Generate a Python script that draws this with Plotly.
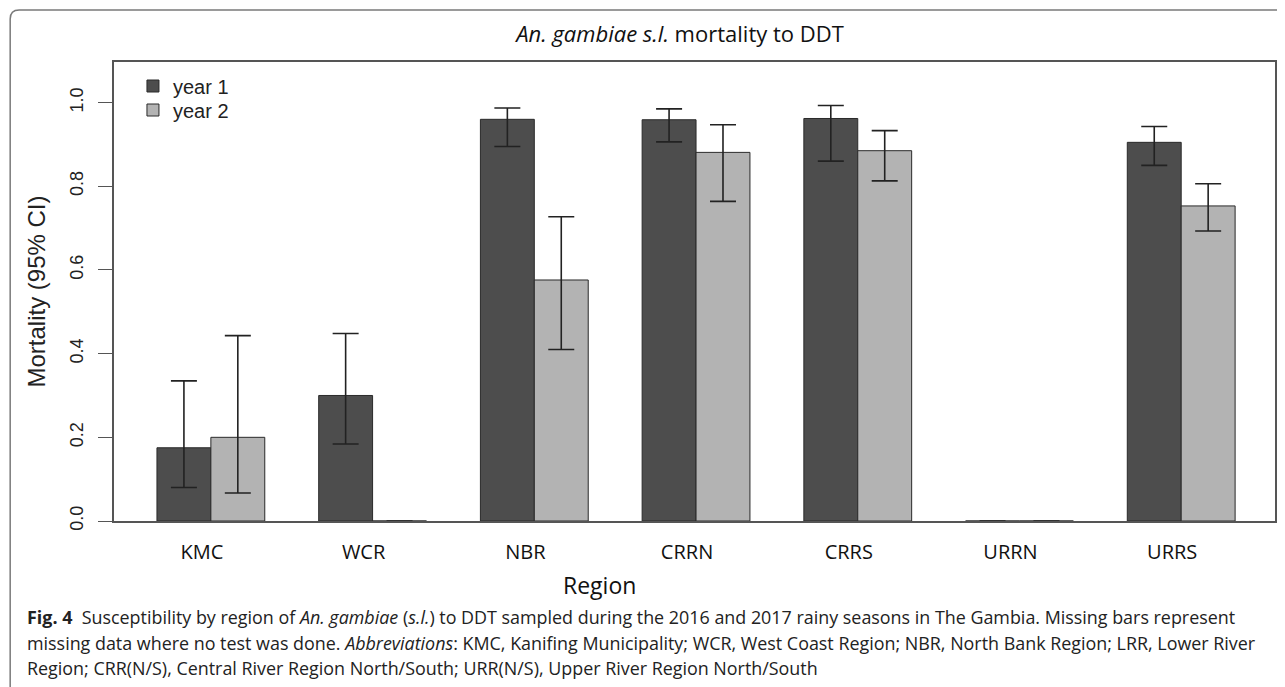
import plotly.graph_objects as go

# ---- data ----
regions = ["KMC", "WCR", "NBR", "CRRN", "CRRS", "URRN", "URRS"]
year1 = [0.175, 0.300, 0.960, 0.959, 0.962, 0.0, 0.905]
year1_lo = [0.080, 0.184, 0.895, 0.906, 0.860, 0.0, 0.850]
year1_hi = [0.335, 0.448, 0.987, 0.985, 0.993, 0.0, 0.943]
year2 = [0.200, 0.0, 0.576, 0.881, 0.885, 0.0, 0.753]
year2_lo = [0.067, 0.0, 0.410, 0.764, 0.813, 0.0, 0.693]
year2_hi = [0.443, 0.0, 0.727, 0.947, 0.933, 0.0, 0.806]
y_ticks = [0.0, 0.2, 0.4, 0.6, 0.8, 1.0]
y_tick_text = ["0.0", "0.2", "0.4", "0.6", "0.8", "1.0"]

caption_lines = [
    "<b>Fig. 4</b>  Susceptibility by region of <i>An. gambiae</i> (<i>s.l.</i>) to DDT sampled during the 2016 and 2017 rainy seasons in The Gambia. Missing bars represent",
    "missing data where no test was done. <i>Abbreviations</i>: KMC, Kanifing Municipality; WCR, West Coast Region; NBR, North Bank Region; LRR, Lower River",
    "Region; CRR(N/S), Central River Region North/South; URR(N/S), Upper River Region North/South",
]

# ---- layout geometry (figure pixels; page adds an 8px body margin) ----
W, H = 1277, 679
L, R, T, B = 106, 1269, 54, 513
def px(x):
    return (x - L) / (R - L)
def py(y):
    return (B - y) / (B - T)

def err(vals, lo, hi):
    return [h - v for v, h in zip(vals, hi)], [v - l for v, l in zip(vals, lo)]

e1p, e1m = err(year1, year1_lo, year1_hi)
e2p, e2m = err(year2, year2_lo, year2_hi)

fig = go.Figure()
fig.add_trace(go.Bar(
    name="year 1", x=regions, y=year1, legend="legend",
    marker=dict(color="#4d4d4d", line=dict(color="#2a2a2a", width=1)),
    error_y=dict(type="data", symmetric=False, array=e1p, arrayminus=e1m,
                 color="#222222", thickness=1.6, width=13),
))
fig.add_trace(go.Bar(
    name="year 2", x=regions, y=year2, legend="legend2",
    marker=dict(color="#b3b3b3", line=dict(color="#2a2a2a", width=1)),
    error_y=dict(type="data", symmetric=False, array=e2p, arrayminus=e2m,
                 color="#222222", thickness=1.6, width=13),
))

legend_font = dict(family="Liberation Sans, Arial, sans-serif", size=20, color="#222")
fig.update_layout(
    width=W, height=H, autosize=False,
    margin=dict(l=L, r=W - R, t=T, b=H - B),
    paper_bgcolor="white", plot_bgcolor="white",
    barmode="group", bargap=1/3, bargroupgap=0,
    showlegend=True,
    legend=dict(x=px(125), y=py(78), xanchor="left", yanchor="middle",
                font=legend_font, bgcolor="rgba(0,0,0,0)"),
    legend2=dict(x=px(125), y=py(102), xanchor="left", yanchor="middle",
                 font=legend_font, bgcolor="rgba(0,0,0,0)"),
    title=dict(text="<i>An. gambiae s.l.</i> mortality to DDT",
               x=672 / W, xref="container", xanchor="center",
               y=1 - 26 / H, yref="container", yanchor="middle",
               font=dict(family="Open Sans, sans-serif", size=22, color="#111")),
    font=dict(family="Liberation Sans, Arial, sans-serif", color="#222"),
)

fig.update_xaxes(
    range=[-0.599, 6.58], showline=True, linecolor="#555", linewidth=1.5, mirror=True,
    ticks="", showgrid=False, zeroline=False, ticklabelshift=-9, ticklabelstandoff=12,
    tickfont=dict(family="Open Sans, sans-serif", size=20, color="#111"),
)
fig.update_yaxes(
    range=[0, 1.097], showline=True, linecolor="#555", linewidth=1.5, mirror=True,
    ticks="outside", ticklen=14, tickwidth=1.2, tickcolor="#555",
    tickvals=y_ticks, ticktext=y_tick_text, tickangle=-90, ticklabelstandoff=8,
    tickfont=dict(family="Liberation Sans, Arial, sans-serif", size=18, color="#222"),
    showgrid=False, zeroline=False,
    title=dict(text="Mortality (95% CI)", standoff=15,
               font=dict(family="Liberation Sans, Arial, sans-serif", size=24, color="#222")),
)

# x-axis title placed where the reference has it
fig.add_annotation(text="Region", xref="paper", yref="paper",
                   x=px(592), y=py(577), xanchor="center", yanchor="middle",
                   showarrow=False,
                   font=dict(family="Open Sans, sans-serif", size=23, color="#111"))

# outer rounded frame (right side runs off the page)
r = 9
x0, y0, x1, y1 = 2, 2, 1320, 700
path = (f"M{px(x1)},{py(y0)} L{px(x0 + r)},{py(y0)} "
        f"Q{px(x0)},{py(y0)} {px(x0)},{py(y0 + r)} "
        f"L{px(x0)},{py(y1)}")
fig.add_shape(type="path", path=path, xref="paper", yref="paper",
              line=dict(color="#7a7a7a", width=1.5), layer="above")

# caption
for i, line in enumerate(caption_lines):
    fig.add_annotation(text=line, xref="paper", yref="paper",
                       x=px(16.5), y=py(609 + 25.5 * i), xanchor="left", yanchor="middle",
                       showarrow=False, align="left",
                       font=dict(family="Open Sans, sans-serif", size=17.9, color="#222"))

fig.write_html("out.html")
